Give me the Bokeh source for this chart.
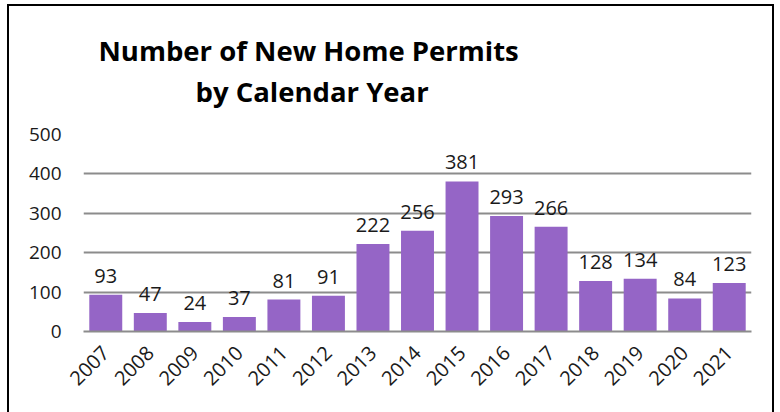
from bokeh.plotting import figure
from bokeh.models import ColumnDataSource, Title, Range1d, InlineStyleSheet
from bokeh.core.properties import value
from bokeh.embed import file_html
from bokeh.resources import INLINE
import math

years = ["2007", "2008", "2009", "2010", "2011", "2012", "2013", "2014",
         "2015", "2016", "2017", "2018", "2019", "2020", "2021"]
permits = [93, 47, 24, 37, 81, 91, 222, 256, 381, 293, 266, 128, 134, 84, 123]
y_ticks = [0, 100, 200, 300, 400, 500]
title_lines = ["Number of New Home Permits", "by Calendar Year"]

FONT = "Open Sans"
BAR = "#9565C6"

src = ColumnDataSource(dict(year=years, permits=permits,
                            label=[str(v) for v in permits]))

p = figure(width=780, height=412, x_range=years, y_range=Range1d(0, 500),
           output_backend="svg", toolbar_location=None,
           min_border_left=83, min_border_right=29,
           min_border_top=134, min_border_bottom=81)
p.outline_line_color = None
p.background_fill_color = "white"
p.border_fill_color = "white"

p.vbar(x="year", top="permits", width=0.74, source=src,
       fill_color=BAR, line_color=None)

p.text(x="year", y="permits", text="label", source=src,
       text_align="center", text_baseline="middle", y_offset=-19,
       text_font=value(FONT), text_font_size="20px", text_color="#1a1a1a")

# axes
p.yaxis.ticker = y_ticks
p.yaxis.axis_line_color = None
p.yaxis.major_tick_line_color = None
p.yaxis.minor_tick_line_color = None
p.yaxis.major_label_text_font = FONT
p.yaxis.major_label_text_font_size = "19px"
p.yaxis.major_label_text_color = "#1a1a1a"
p.yaxis.major_label_standoff = 16

p.xaxis.axis_line_color = "#8c8c8c"
p.xaxis.axis_line_width = 2
p.xaxis.major_tick_line_color = None
p.xaxis.minor_tick_line_color = None
p.xaxis.major_label_orientation = math.pi / 4
p.xaxis.major_label_text_font = FONT
p.xaxis.major_label_text_font_size = "20px"
p.xaxis.major_label_text_color = "#1a1a1a"
p.xaxis.major_label_standoff = 12

p.xgrid.grid_line_color = None
p.ygrid.ticker = y_ticks
p.ygrid.grid_line_color = "#8c8c8c"
p.ygrid.grid_line_width = 2

# title: two lines; later-added titles sit farther from the frame
p.add_layout(Title(text=title_lines[1], align="left", offset=112, standoff=50,
                   text_font=FONT, text_font_style="bold",
                   text_font_size="27.5px", text_color="black"), "above")
p.add_layout(Title(text=title_lines[0], align="left", offset=15, standoff=-47,
                   text_font=FONT, text_font_style="bold",
                   text_font_size="27.5px", text_color="black"), "above")

# outer chart border
p.stylesheets = [InlineStyleSheet(css="""
:host { position: relative; overflow: hidden; }
:host::after {
  content: ""; position: absolute; left: 7px; top: 4px;
  width: 767px; height: 440px; border: 2px solid black;
  pointer-events: none; box-sizing: border-box;
}
""")]

open("out.html", "w").write(file_html(p, INLINE))
